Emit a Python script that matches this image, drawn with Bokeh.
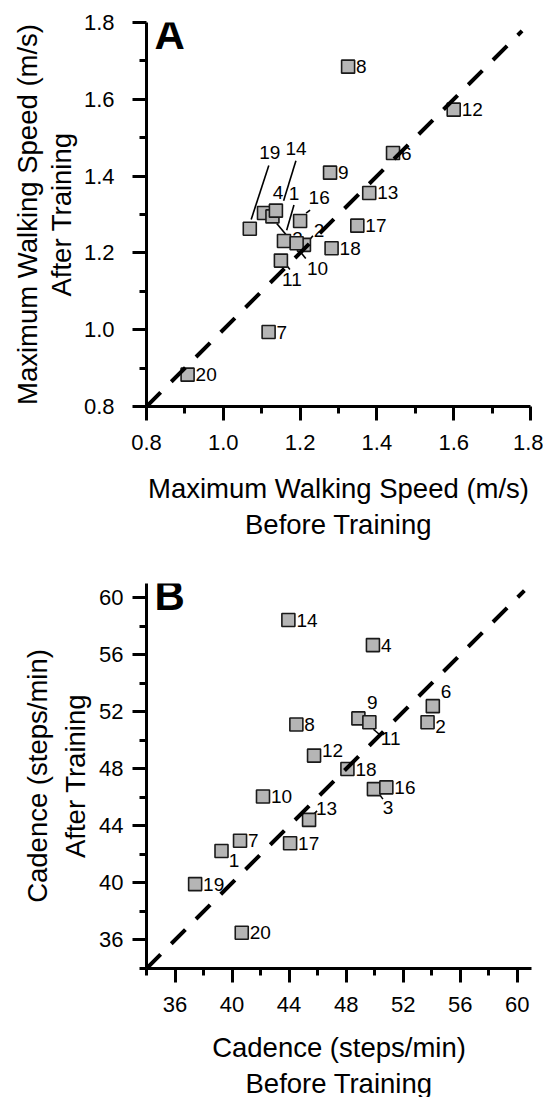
from bokeh.plotting import figure
from bokeh.layouts import column
from bokeh.models import Range1d, FixedTicker, PrintfTickFormatter, Title
from bokeh.embed import file_html
from bokeh.resources import INLINE
from bokeh.core.properties import value

# ---------------- data ----------------
ids_a = ["1", "2", "3", "4", "6", "7", "8", "9", "10", "11", "12", "13", "14", "16", "17", "18", "19", "20"]
speed_before = [1.158, 1.210, 1.191, 1.106, 1.442, 1.118, 1.325, 1.278, 1.128, 1.150, 1.600, 1.380, 1.137, 1.200, 1.349, 1.282, 1.069, 0.907]
speed_after = [1.231, 1.221, 1.225, 1.304, 1.460, 0.994, 1.685, 1.409, 1.295, 1.180, 1.573, 1.356, 1.310, 1.283, 1.271, 1.212, 1.263, 0.883]

ids_b = ["1", "2", "3", "4", "6", "7", "8", "9", "10", "11", "12", "13", "14", "16", "17", "18", "19", "20"]
cad_before = [39.26, 53.71, 49.95, 49.88, 54.08, 40.56, 44.51, 48.86, 42.17, 49.63, 45.75, 45.40, 43.95, 50.82, 44.07, 48.09, 37.41, 40.68]
cad_after = [42.24, 51.27, 46.58, 56.68, 52.40, 42.96, 51.11, 51.54, 46.06, 51.27, 48.93, 44.42, 58.44, 46.70, 42.78, 47.99, 39.92, 36.51]

ticks_a = [0.8, 1.0, 1.2, 1.4, 1.6, 1.8]
minor_a = [0.9, 1.1, 1.3, 1.5, 1.7]
ticks_b = [36, 40, 44, 48, 52, 56, 60]
minor_b = [34, 38, 42, 46, 50, 54, 58]
identity_a = [0.8, 1.778]
identity_b = [34, 60.5]

# ---------------- label placement (style, screen px; +dy = down) ----------------
lab_off_a = {"19": (9.5, -76), "14": (9.5, -62), "4": (8.7, -20.6), "1": (4.7, -47.4),
             "10": (34.5, 51.7), "11": (1.2, 19.3), "16": (8.5, -23.4), "2": (9.7, -14.3),
             "3": (-4.3, -5)}
lead_a = {"19": (1.4, -9.3, 19, -63.3), "14": (7.7, -10, 20, -50), "1": (2.7, -10.7, 10, -36),
          "10": (4.3, 7, 33.3, 42), "11": (5, 4, 9, 9), "16": (6, -8, 10, -11), "2": (4, -3, 9, -9)}
lab_off_b = {"6": (8, -14.4), "2": (7.7, 4), "9": (8.7, -16.3), "11": (11.5, 16), "12": (8, -5),
             "3": (8.7, 18.7), "13": (7, -11), "1": (7.3, 9)}
lead_b = {"11": (4, 7, 11, 13), "13": (5, -6, 8, -9), "3": (6, 6, 9, 10)}

FONT = "Liberation Sans"
TITLE_SIZE = "27.5px"


def style_axis(ax, major, minor, fmt, standoff):
    ax.ticker = FixedTicker(ticks=major, minor_ticks=minor)
    ax.formatter = PrintfTickFormatter(format=fmt)
    ax.axis_line_width = 3
    ax.axis_line_color = "black"
    ax.major_tick_line_width = 3
    ax.minor_tick_line_width = 3
    ax.major_tick_out = 14
    ax.major_tick_in = 0
    ax.minor_tick_out = 7
    ax.minor_tick_in = 0
    ax.major_label_text_font = FONT
    ax.major_label_text_font_size = "22px"
    ax.major_label_text_color = "black"
    ax.major_label_standoff = standoff
    ax.axis_label_text_font = FONT
    ax.axis_label_text_font_size = TITLE_SIZE
    ax.axis_label_text_font_style = "normal"
    ax.axis_label_text_color = "black"


def panel(letter, ids, xs, ys, lab_off, leads, xr, yr, fw, fh, major, minor, fmt,
          xl1, xl2, yl1, yl2, top, bottom, right, ident,
          ytick_so, ylab_so, ytitle_so, xlab_so):
    p = figure(frame_width=fw, frame_height=fh, x_range=Range1d(*xr), y_range=Range1d(*yr),
               output_backend="svg", toolbar_location=None,
               min_border_left=146, min_border_right=right, min_border_top=top,
               min_border_bottom=bottom)
    p.outline_line_color = None
    p.grid.visible = False
    p.background_fill_color = "white"
    p.border_fill_color = "white"

    style_axis(p.xaxis[0], major, minor, fmt, 14)
    style_axis(p.yaxis[0], major, minor, fmt, ytick_so)
    p.xaxis[0].axis_label = xl1
    p.xaxis[0].axis_label_standoff = xlab_so
    p.yaxis[0].axis_label = yl2
    p.yaxis[0].axis_label_standoff = ylab_so

    tb = Title(text=xl2, align="center", text_font=FONT, text_font_size=TITLE_SIZE,
               text_font_style="normal", text_color="black", standoff=0, offset=0)
    p.add_layout(tb, "below")
    tl = Title(text=yl1, align="center", text_font=FONT, text_font_size=TITLE_SIZE,
               text_font_style="normal", text_color="black", standoff=ytitle_so, offset=0)
    p.add_layout(tl, "left")

    sx = fw / (xr[1] - xr[0])
    sy = fh / (yr[1] - yr[0])

    dxs = [lab_off.get(i, (8, 0))[0] for i in ids]
    dys = [lab_off.get(i, (8, 0))[1] for i in ids]
    p.text(x=xs, y=ys, text=ids, x_offset=dxs, y_offset=dys, text_align="left",
           text_baseline="middle", text_font=value(FONT), text_font_size="19px",
           text_color="black")

    x0, y0, x1, y1 = [], [], [], []
    for i, xv, yv in zip(ids, xs, ys):
        if i in leads:
            a, b, c, d = leads[i]
            x0.append(xv + a / sx)
            y0.append(yv - b / sy)
            x1.append(xv + c / sx)
            y1.append(yv - d / sy)
    p.segment(x0=x0, y0=y0, x1=x1, y1=y1, line_color="black", line_width=1.6)

    p.scatter(x=xs, y=ys, marker="square", size=13, fill_color="#b5b5b5",
              line_color="#1a1a1a", line_width=1.6)

    p.line(x=ident, y=ident, line_color="black", line_width=4, line_dash="20 15")

    p.text(x=[xr[0]], y=[yr[1]], text=[letter], x_offset=[8], y_offset=[-12],
           text_align="left", text_baseline="top", text_font=value(FONT),
           text_font_size="42px", text_font_style="bold", text_color="black")
    return p


pa = panel("A", ids_a, speed_before, speed_after, lab_off_a, lead_a, (0.8, 1.8), (0.8, 1.8),
           384, 384, ticks_a, minor_a, "%.1f",
           "Maximum Walking Speed (m/s)", "Before Training",
           "Maximum Walking Speed (m/s)", "After Training", 22, 134, 13, identity_a,
           18, 4, 0, 20)
pb = panel("B", ids_b, cad_before, cad_after, lab_off_b, lead_b, (34, 61), (34, 61),
           385, 385, ticks_b, minor_b, "%d",
           "Cadence (steps/min)", "Before Training",
           "Cadence (steps/min)", "After Training", 43, 129, 12, identity_b,
           9, 5, 9, 17)

layout = column(pa, pb)
open("out.html", "w").write(file_html(layout, INLINE))
